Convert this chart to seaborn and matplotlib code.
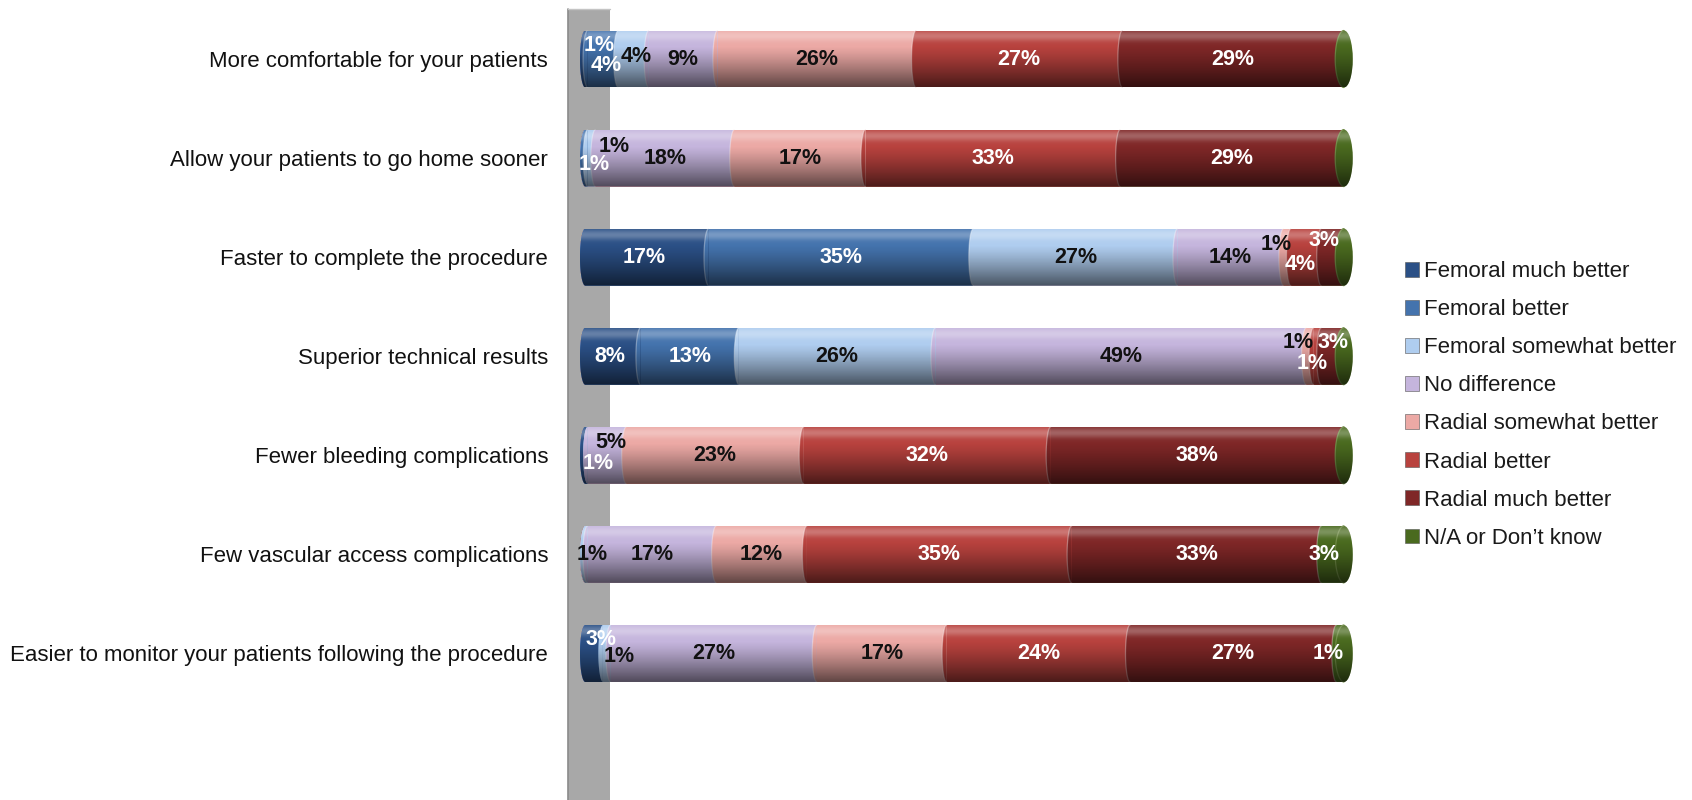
import numpy as np
import pandas as pd
import matplotlib
matplotlib.use("Agg")
import matplotlib.pyplot as plt
import seaborn as sns
from matplotlib.patches import Polygon, Rectangle, Ellipse, Patch

# ---- data -------------------------------------------------------------
categories = [
    "More comfortable for your patients",
    "Allow your patients to go home sooner",
    "Faster to complete the procedure",
    "Superior technical results",
    "Fewer bleeding complications",
    "Few vascular access complications",
    "Easier to monitor your patients following the procedure",
]
series_names = [
    "Femoral much better",
    "Femoral better",
    "Femoral somewhat better",
    "No difference",
    "Radial somewhat better",
    "Radial better",
    "Radial much better",
    "N/A or Don\u2019t know",
]
femoral_much_better = [1, 0, 17, 8, 1, 0, 3]
femoral_better = [4, 1, 35, 13, 0, 0, 0]
femoral_somewhat_better = [4, 1, 27, 26, 0, 1, 1]
no_difference = [9, 18, 14, 49, 5, 17, 27]
radial_somewhat_better = [26, 17, 1, 1, 23, 12, 17]
radial_better = [27, 33, 4, 1, 32, 35, 24]
radial_much_better = [29, 29, 3, 3, 38, 33, 27]
not_applicable = [0, 0, 0, 0, 0, 3, 1]

# ---- styling ----------------------------------------------------------
colors = ["#2b5086", "#4473ad", "#afcdef", "#c5b5dd",
          "#eca9a5", "#b8423e", "#7f2727", "#4a6a1f"]
white_text = [True, True, False, False, False, True, True, True]

# small-segment label nudges: (row, series) -> (dx in %, dy in px)
label_nudge = {
    (0, 0): (2.0, -14), (0, 1): (0.4, 6), (0, 2): (0.4, -3),
    (1, 1): (1.4, 6), (1, 2): (2.9, -12),
    (2, 4): (-1.4, -13), (2, 5): (-0.8, 7), (2, 6): (-1.1, -17),
    (3, 4): (-1.6, -14), (3, 5): (-0.7, 7), (3, 6): (0.0, -14),
    (4, 0): (1.85, 8), (4, 3): (0.5, -13),
    (5, 2): (1.1, 0), (5, 7): (-1.1, 0),
    (6, 0): (1.2, -14), (6, 2): (1.6, 3), (6, 7): (-1.6, 0),
}

sns.set_style("white")
plt.rcParams["font.family"] = ["Liberation Sans", "DejaVu Sans"]

values = np.array([femoral_much_better, femoral_better, femoral_somewhat_better,
                   no_difference, radial_somewhat_better, radial_better,
                   radial_much_better, not_applicable], dtype=float).T
n_rows, n_ser = values.shape
shares = values / values.sum(axis=1, keepdims=True) * 100.0
ends = np.cumsum(shares, axis=1)
starts = ends - shares

W, H = 1692, 800
fig = plt.figure(figsize=(W / 100, H / 100), dpi=100)
px_per_unit = 7.64
ax_left_px, ax_right_px, zero_px = 560, 1380, 580
ax = fig.add_axes([ax_left_px / W, 0, (ax_right_px - ax_left_px) / W, 1])
row_px0, row_step = 59.0, 99.08
xlim = ((ax_left_px - zero_px) / px_per_unit, (ax_right_px - zero_px) / px_per_unit)
ylim = ((H - row_px0) / row_step, -row_px0 / row_step)

bar_w = 0.575
h = bar_w / 2
a_left, a_bound, a_end = 0.7, 0.6, 1.15

# side wall behind the bars
wall_x0, wall_x1 = -12 / px_per_unit, 30 / px_per_unit
wall_top = (9 - row_px0) / row_step
ax.add_patch(Rectangle((wall_x0, wall_top), wall_x1 - wall_x0, ylim[0] - wall_top + 1,
                       facecolor="#a8a8a8", edgecolor="none", zorder=0.5))
ax.plot([wall_x0, wall_x0], [wall_top, ylim[0] + 1], color="#8a8a8a", lw=1.2, zorder=0.6)
ax.plot([wall_x0, wall_x1], [wall_top, wall_top], color="#c4c4c4", lw=1.0, zorder=0.6)

# stacked bodies: longest cumulative first so shorter ones sit on top
for j in reversed(range(n_ser)):
    df = pd.DataFrame({"category": categories, "end": ends[:, j]})
    sns.barplot(data=df, x="end", y="category", orient="h", color=colors[j],
                saturation=1, width=bar_w, errorbar=None, linewidth=0,
                ax=ax, zorder=2)

t_half = np.linspace(np.pi / 2, 3 * np.pi / 2, 60)


def outline(r):
    left = [(a_left + a_left * np.cos(t), r + h * np.sin(t)) for t in t_half]
    tr = np.linspace(-np.pi / 2, np.pi / 2, 60)
    right = [(100 + a_end * np.cos(t), r + h * np.sin(t)) for t in tr]
    return Polygon(left + right, closed=True, transform=ax.transData)


clips = [outline(r) for r in range(n_rows)]

for p in list(ax.patches):
    if p.zorder == 2:
        r = int(round(p.get_y() + p.get_height() / 2))
        p.set_clip_path(clips[r])

t_rows = np.linspace(0, 1, 256)
dark = 0.6 * np.clip((t_rows - 0.28) / 0.72, 0, 1) ** 1.2
light = 0.28 * np.exp(-((t_rows - 0.10) / 0.09) ** 2)
shade = np.zeros((256, 1, 4))
shade[..., 3] = dark[:, None]
gloss = np.ones((256, 1, 4))
gloss[..., 3] = light[:, None]

for r in range(n_rows):
    clip = clips[r]
    # curved fronts where each segment begins
    for j in range(1, n_ser):
        xs = starts[r, j]
        pts = [(xs + a_bound * np.cos(t), r + h * np.sin(t)) for t in t_half]
        arc = Polygon(pts, closed=True, facecolor=colors[j], edgecolor="none", zorder=3)
        ax.add_patch(arc)
        arc.set_clip_path(clip)
        if shares[r, j - 1] > 0 and shares[r, j] > 0:
            ln, = ax.plot([p[0] for p in pts], [p[1] for p in pts],
                          color="white", alpha=0.35, lw=0.9, zorder=3.2)
            ln.set_clip_path(clip)
    # end cap
    cap = Ellipse((100, r), 2 * a_end, 2 * h, facecolor=colors[-1], edgecolor="none", zorder=3.5)
    ax.add_patch(cap)
    pts = [(100 + a_end * np.cos(t), r + h * np.sin(t)) for t in t_half]
    ax.plot([p[0] for p in pts], [p[1] for p in pts], color="#6f8a45", lw=0.9, zorder=3.6)
    # cylinder shading
    for img in (shade, gloss):
        im = ax.imshow(img, extent=(-0.2, 100 + a_end + 0.2, r + h, r - h),
                       aspect="auto", interpolation="bilinear", zorder=4)
        im.set_clip_path(clip)

    # value labels
    for j in range(n_ser):
        if values[r, j] <= 0:
            continue
        dx, dy = label_nudge.get((r, j), (0.0, 0.0))
        xc = starts[r, j] + shares[r, j] / 2 + dx
        yc = r + dy / row_step
        ax.text(xc, yc, f"{int(values[r, j])}%", ha="center", va="center",
                fontsize=15.5, fontweight="bold",
                color="white" if white_text[j] else "#111111", zorder=6)

ax.set_xlim(*xlim)
ax.set_ylim(*ylim)
ax.set_yticks(range(n_rows))
ax.set_yticklabels(categories, fontsize=16, color="#111111")
ax.tick_params(axis="y", length=0, pad=8.6)
ax.set_xticks([])
ax.set_xlabel("")
ax.set_ylabel("")
for s in ax.spines.values():
    s.set_visible(False)
ax.set_facecolor("none")

handles = [Patch(facecolor=c, edgecolor="#555555", linewidth=0.4) for c in colors]
fig.legend(handles, series_names, loc="upper left",
           bbox_to_anchor=(1405 / W, 1 - 261 / H), frameon=False, fontsize=16,
           handlelength=0.65, handleheight=0.65, handletextpad=0.2,
           labelspacing=0.77, borderpad=0, borderaxespad=0, labelcolor="#1a1a1a")

fig.savefig("out.png", dpi=100, facecolor="white")
